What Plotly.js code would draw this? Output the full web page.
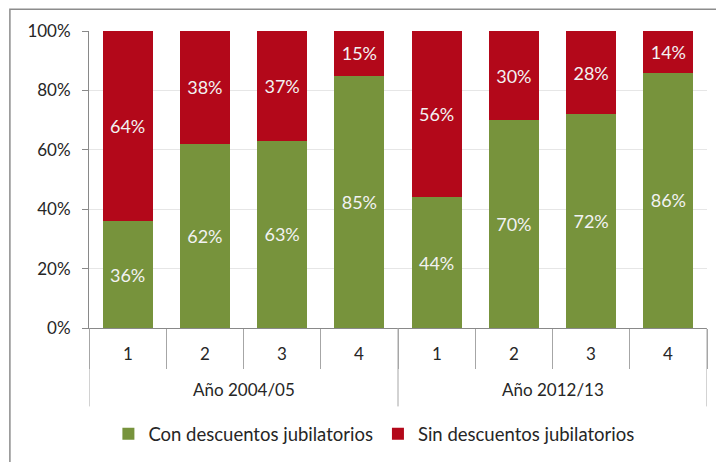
<!DOCTYPE html>
<html>
<head>
<meta charset="utf-8">
<script src="https://cdn.plot.ly/plotly-3.0.1.min.js"></script>
<style>html,body{margin:0;padding:0;background:#fff;}#chart{width:716px;height:462px;}</style>
</head>
<body>
<div id="chart"></div>
<script>
var groups = ["Año 2004/05","Año 2004/05","Año 2004/05","Año 2004/05","Año 2012/13","Año 2012/13","Año 2012/13","Año 2012/13"];
var quintiles = ["1","2","3","4","1","2","3","4"];
var conDescuentos = [36, 62, 63, 85, 44, 70, 72, 86];
var sinDescuentos = [64, 38, 37, 15, 56, 30, 28, 14];
var yTickVals = [0, 20, 40, 60, 80, 100];
var yTickText = ["0%", "20%", "40%", "60%", "80%", "100%"];

var font = "Lato, 'Open Sans', sans-serif";
var txtColor = "#262626";
var sepColor = "#A6A6A6";

var traces = [
  {type: "bar", name: "Con descuentos jubilatorios", x: [groups, quintiles], y: conDescuentos,
   marker: {color: "#77933C"},
   texttemplate: "%{y}%", textposition: "inside", insidetextanchor: "middle",
   textfont: {color: "#F2F2F2", size: 18, family: font}, hoverinfo: "none"},
  {type: "bar", name: "Sin descuentos jubilatorios", x: [groups, quintiles], y: sinDescuentos,
   marker: {color: "#B3081A"},
   texttemplate: "%{y}%", textposition: "inside", insidetextanchor: "middle",
   textfont: {color: "#F2F2F2", size: 18, family: font}, hoverinfo: "none"}
];

var annotations = [];
var shapes = [];
var n = quintiles.length;
for (var i = 0; i < n; i++) {
  annotations.push({xref: "x2", yref: "paper", x: i, y: -0.087, text: quintiles[i], showarrow: false,
                    xanchor: "center", yanchor: "middle", font: {size: 17, color: txtColor, family: font}});
}
var uniqueGroups = [];
groups.forEach(function (g) { if (uniqueGroups.indexOf(g) < 0) uniqueGroups.push(g); });
uniqueGroups.forEach(function (g) {
  var idx = [];
  groups.forEach(function (gg, k) { if (gg === g) idx.push(k); });
  var c = (idx[0] + idx[idx.length - 1]) / 2;
  annotations.push({xref: "x2", yref: "paper", x: c, y: -0.208, text: g, showarrow: false,
                    xanchor: "center", yanchor: "middle", font: {size: 17, color: txtColor, family: font}});
  shapes.push({type: "line", xref: "x2", yref: "paper", x0: idx[0] - 0.5, x1: idx[0] - 0.5, y0: 0, y1: -0.264,
               line: {color: sepColor, width: 1}});
});
shapes.push({type: "line", xref: "x2", yref: "paper", x0: n - 0.5, x1: n - 0.5, y0: 0, y1: -0.264,
             line: {color: sepColor, width: 1}});
// outer frame: only left and top edges are visible in the picture
shapes.push({type: "path", xref: "paper", yref: "paper",
             path: "M -0.128,-0.6 L -0.128,1.0736 L 1.3,1.0736",
             line: {color: "#8C8C8C", width: 1.5}});

var layout = {
  width: 716, height: 462,
  margin: {l: 89, r: 9, t: 31, b: 132},
  barmode: "stack", bargap: 0.35,
  paper_bgcolor: "#ffffff", plot_bgcolor: "#ffffff",
  font: {family: font, size: 17, color: txtColor},
  showlegend: true,
  legend: {orientation: "h", x: 0.461, xanchor: "center", y: -0.358, yanchor: "middle",
           font: {size: 18.5, color: txtColor}, traceorder: "normal", itemwidth: 30},
  xaxis: {type: "multicategory", showline: true, linecolor: "#898989", linewidth: 1,
          ticks: "outside", tickson: "boundaries", ticklen: 40, tickcolor: sepColor,
          showdividers: false, showticklabels: false, showgrid: false},
  xaxis2: {overlaying: "x", type: "linear", range: [-0.5, n - 0.5], visible: false, fixedrange: true},
  yaxis: {range: [0, 100], tickvals: yTickVals, ticktext: yTickText, showline: true,
          linecolor: "#898989", linewidth: 1, ticks: "outside", ticklen: 6, tickcolor: "#898989",
          ticklabelstandoff: 8,
          showgrid: true, gridcolor: "#E6E6E6", zeroline: false, tickfont: {size: 17, color: txtColor}},
  annotations: annotations,
  shapes: shapes
};
Plotly.newPlot("chart", traces, layout, {displayModeBar: false, staticPlot: true});
</script>
</body>
</html>
